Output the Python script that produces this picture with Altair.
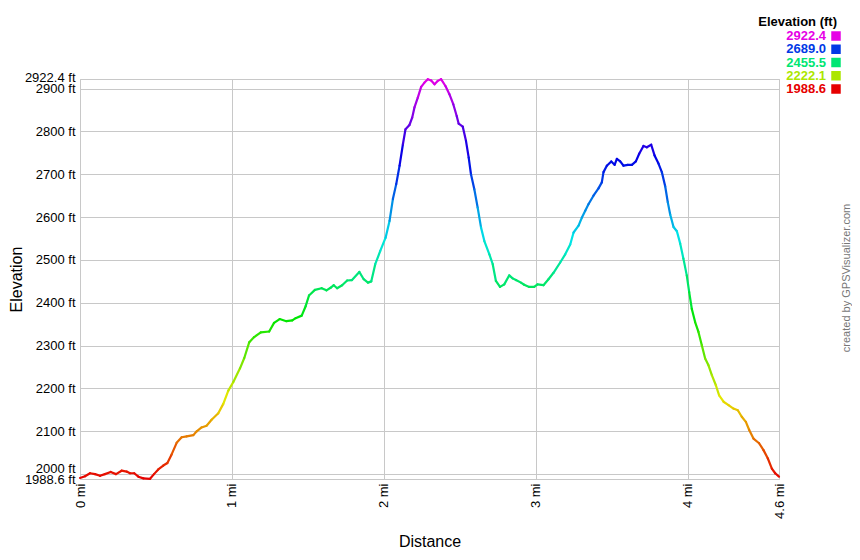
import altair as alt
import pandas as pd

# ---- profile data (distance in miles, elevation in feet) ----
distance_mi = [
    0.000, 0.033, 0.066, 0.099, 0.132, 0.164, 0.202, 0.237, 0.274, 0.307,
    0.329, 0.357, 0.384, 0.417, 0.461, 0.487, 0.515, 0.548, 0.575, 0.603,
    0.636, 0.669, 0.702, 0.746, 0.768, 0.800, 0.833, 0.866, 0.910, 0.943,
    0.976, 1.009, 1.053, 1.081, 1.114, 1.146, 1.190, 1.245, 1.277, 1.314,
    1.358, 1.397, 1.419, 1.459, 1.485, 1.507, 1.546, 1.590, 1.622, 1.649,
    1.670, 1.692, 1.725, 1.758, 1.790, 1.838, 1.867, 1.895, 1.917, 1.943,
    1.976, 2.011, 2.037, 2.059, 2.081, 2.103, 2.125, 2.142, 2.168, 2.186,
    2.201, 2.223, 2.245, 2.267, 2.289, 2.311, 2.333, 2.354, 2.376, 2.405,
    2.431, 2.457, 2.479, 2.492, 2.519, 2.540, 2.558, 2.573, 2.595, 2.617,
    2.639, 2.661, 2.694, 2.716, 2.737, 2.764, 2.792, 2.825, 2.847, 2.869,
    2.902, 2.923, 2.956, 2.989, 3.011, 3.050, 3.083, 3.116, 3.160, 3.193,
    3.226, 3.248, 3.281, 3.303, 3.325, 3.346, 3.379, 3.412, 3.434, 3.445,
    3.467, 3.496, 3.518, 3.533, 3.555, 3.577, 3.605, 3.632, 3.658, 3.680,
    3.708, 3.730, 3.759, 3.781, 3.807, 3.829, 3.851, 3.868, 3.884, 3.906,
    3.928, 3.950, 3.971, 3.993, 4.009, 4.026, 4.048, 4.070, 4.092, 4.114,
    4.136, 4.158, 4.184, 4.206, 4.235, 4.268, 4.300, 4.329, 4.355, 4.382,
    4.404, 4.432, 4.469, 4.498, 4.526, 4.553, 4.575, 4.600,
]
elevation_ft = [
    1991, 1995, 2002, 2000, 1996, 2000, 2005, 2000, 2008, 2006,
    2002, 2002, 1994, 1990, 1989, 2000, 2011, 2020, 2026, 2046,
    2073, 2086, 2088, 2091, 2100, 2109, 2113, 2127, 2142, 2164,
    2195, 2215, 2247, 2271, 2308, 2320, 2331, 2333, 2353, 2362,
    2357, 2359, 2364, 2370, 2392, 2417, 2430, 2434, 2429, 2435,
    2441, 2434, 2441, 2452, 2453, 2472, 2455, 2447, 2450, 2490,
    2521, 2552, 2591, 2642, 2677, 2720, 2770, 2805, 2815, 2832,
    2856, 2879, 2904, 2914, 2922, 2919, 2910, 2918, 2922, 2906,
    2887, 2863, 2836, 2818, 2811, 2778, 2739, 2700, 2665, 2622,
    2576, 2544, 2513, 2490, 2451, 2437, 2443, 2464, 2457, 2453,
    2447, 2442, 2437, 2437, 2443, 2441, 2455, 2470, 2494, 2513,
    2536, 2564, 2580, 2599, 2615, 2630, 2650, 2667, 2681, 2705,
    2720, 2730, 2722, 2736, 2730, 2720, 2722, 2722, 2730, 2748,
    2766, 2763, 2769, 2744, 2725, 2705, 2672, 2635, 2606, 2577,
    2567, 2538, 2503, 2464, 2425, 2386, 2355, 2332, 2301, 2270,
    2254, 2231, 2208, 2184, 2169, 2161, 2153, 2149, 2134, 2122,
    2103, 2083, 2072, 2056, 2037, 2013, 2002, 1994,
]

# ---- legend / axis values ----
legend_values = [2922.4, 2689.0, 2455.5, 2222.1, 1988.6]
legend_labels = ["2922.4", "2689.0", "2455.5", "2222.1", "1988.6"]
color_domain = [1988.6, 2222.1, 2455.5, 2689.0, 2922.4]
color_range = ["hsl(0,100%,45%)", "hsl(75,100%,45%)", "hsl(150,100%,45%)",
               "hsl(225,100%,45%)", "hsl(300,100%,45%)"]
x_ticks = [0, 1, 2, 3, 4, 4.6]
y_ticks = [1988.6, 2000, 2100, 2200, 2300, 2400, 2500, 2600, 2700, 2800, 2900, 2922.4]

FONT = "Liberation Sans"

# segments between consecutive points
rows = []
for i in range(len(distance_mi) - 1):
    rows.append({
        "mi": distance_mi[i], "ft": elevation_ft[i],
        "mi2": distance_mi[i + 1], "ft2": elevation_ft[i + 1],
        "mid": (elevation_ft[i] + elevation_ft[i + 1]) / 2,
    })
seg = pd.DataFrame(rows)

color_scale = alt.Scale(domain=color_domain, range=color_range, interpolate="hsl")

line = alt.Chart(seg).mark_rule(strokeWidth=2.2, strokeCap="round").encode(
    x=alt.X("mi:Q",
            scale=alt.Scale(domain=[0, 4.6], nice=False, zero=False),
            axis=alt.Axis(values=x_ticks, labelExpr="datum.value + ' mi'",
                          labelAngle=270, labelAlign="right", labelBaseline="middle",
                          labelPadding=4, labelFlush=False, labelOverlap=False,
                          title="Distance", titlePadding=15)),
    x2="mi2:Q",
    y=alt.Y("ft:Q",
            scale=alt.Scale(domain=[1988.6, 2922.4], nice=False, zero=False),
            axis=alt.Axis(values=y_ticks, labelExpr="datum.value + ' ft'",
                          labelPadding=5, labelFlush=False, labelOverlap=False,
                          labelOffset={"condition": [
                              {"test": "datum.value == 2000", "value": -6},
                              {"test": "datum.value == 2922.4", "value": -2}],
                              "value": 0},
                          title="Elevation", titlePadding=0)),
    y2="ft2:Q",
    color=alt.Color("mid:Q", scale=color_scale, legend=None),
)

leg_df = pd.DataFrame({"val": legend_values, "label": legend_labels,
                       "rank": list(range(len(legend_values)))})
leg_y = alt.Y("rank:Q", scale=alt.Scale(domain=[0, 4], range=[-43, 10]), axis=None)

leg_text = alt.Chart(leg_df).mark_text(
    align="right", baseline="middle", font=FONT, fontSize=13, fontWeight="bold"
).encode(
    x=alt.value(746),
    y=leg_y,
    text="label:N",
    color=alt.Color("val:Q", scale=color_scale, legend=None),
)

leg_sq = alt.Chart(leg_df).mark_square(size=90, opacity=1, filled=True).encode(
    x=alt.value(756),
    y=leg_y,
    color=alt.Color("val:Q", scale=color_scale, legend=None),
)

one = pd.DataFrame({"k": [0]})
leg_title = alt.Chart(one).mark_text(
    align="right", baseline="middle", font=FONT, fontSize=13, fontWeight="bold",
    color="black"
).encode(x=alt.value(757), y=alt.value(-57), text=alt.value("Elevation (ft)"))

credit = alt.Chart(one).mark_text(
    align="center", baseline="middle", font=FONT, fontSize=11, angle=270,
    color="#777777"
).encode(x=alt.value(767), y=alt.value(199), text=alt.value("created by GPSVisualizer.com"))

chart = alt.layer(line, leg_text, leg_sq, leg_title, credit).resolve_scale(
    y="independent"
).properties(
    width=699, height=400, autosize="none", background="white",
    padding={"left": 72, "top": 71, "right": 73, "bottom": 70},
).configure_view(
    stroke="#c8c8c8", strokeWidth=1
).configure_axis(
    labelFont=FONT, labelFontSize=13, labelColor="black",
    titleFont=FONT, titleFontSize=16, titleFontWeight="normal", titleColor="black",
    gridColor="#c8c8c8", gridWidth=1, domain=False, ticks=False,
)

chart.save("out.html", embed_options={"renderer": "svg", "actions": False})
